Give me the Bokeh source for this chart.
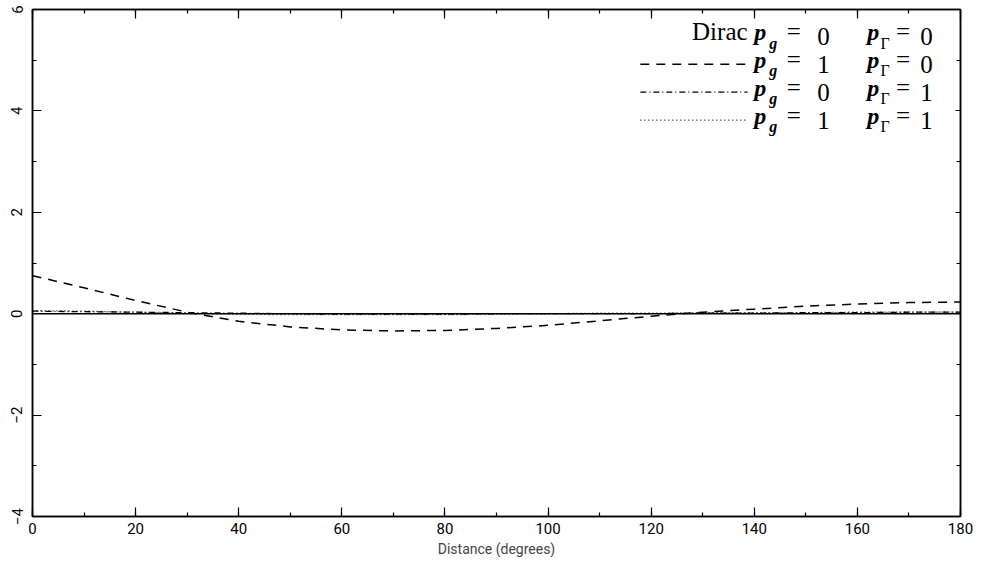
from bokeh.plotting import figure
from bokeh.models import (LinearAxis, SingleIntervalTicker, Range1d, Label,
                          CustomLabelingPolicy)
from bokeh.embed import file_html
from bokeh.resources import INLINE

# ---- data ----
distance = [0, 10, 20, 30, 40, 50, 60, 70, 80, 90, 100, 110, 120, 130, 140, 150, 160, 170, 180]
dirac_pg0_pr0 = [0.00, 0.00, 0.00, 0.00, 0.00, 0.00, 0.00, 0.00, 0.00, 0.00,
                 0.00, 0.00, 0.00, 0.00, 0.00, 0.00, 0.00, 0.00, 0.00]
pg1_pr0 = [0.75, 0.51, 0.26, 0.03, -0.15, -0.26, -0.32, -0.34, -0.33, -0.29,
           -0.23, -0.14, -0.05, 0.03, 0.09, 0.15, 0.19, 0.22, 0.23]
pg0_pr1 = [0.05, 0.04, 0.03, 0.02, 0.01, 0.00, -0.01, -0.01, -0.01, 0.00,
           0.00, 0.00, 0.00, 0.01, 0.01, 0.02, 0.02, 0.03, 0.03]
pg1_pr1 = [0.06, 0.05, 0.03, 0.01, -0.01, -0.02, -0.02, -0.02, -0.02, -0.01,
           0.00, 0.01, 0.01, 0.02, 0.02, 0.02, 0.03, 0.03, 0.03]

legend_pg = ["0", "1", "0", "1"]
legend_pr = ["0", "0", "1", "1"]
x_label = "Distance (degrees)"

# ---- figure ----
p = figure(width=981, height=577, x_range=Range1d(0, 180), y_range=Range1d(-4, 6),
           output_backend="svg", toolbar_location=None,
           min_border_left=32, min_border_right=21, min_border_top=9, min_border_bottom=61,
           x_axis_label=x_label)
p.xgrid.visible = False
p.ygrid.visible = False
p.outline_line_color = "black"
p.outline_line_width = 1.5
p.background_fill_color = "white"
p.border_fill_color = "white"

TICK_FONT = "Roboto"
no_labels = CustomLabelingPolicy(code="for (const i of indices) { indices.unset(i) } return indices")

def style_axis(ax, labels=True):
    ax.major_tick_in = 9
    ax.major_tick_out = 0
    ax.minor_tick_in = 4
    ax.minor_tick_out = 0
    ax.axis_line_color = "black"
    ax.axis_line_width = 1.5
    ax.major_tick_line_width = 1.2
    ax.minor_tick_line_width = 1.2
    ax.major_label_text_font = TICK_FONT
    ax.major_label_text_color = "black"
    ax.major_label_text_font_size = "15px"
    if not labels:
        ax.major_label_policy = no_labels
        ax.major_label_standoff = 0
        ax.major_label_text_font_size = "1px"

p.xaxis.ticker = SingleIntervalTicker(interval=20, num_minor_ticks=2)
p.yaxis.ticker = SingleIntervalTicker(interval=2, num_minor_ticks=2)
for ax in p.xaxis:
    style_axis(ax)
    ax.major_label_standoff = 6
    ax.axis_label_text_font = TICK_FONT
    ax.axis_label_text_font_style = "normal"
    ax.axis_label_text_font_size = "14px"
    ax.axis_label_standoff = 4
for ax in p.yaxis:
    style_axis(ax)
    ax.major_label_orientation = "vertical"
    ax.major_label_standoff = 10

top = LinearAxis(ticker=SingleIntervalTicker(interval=20, num_minor_ticks=2))
style_axis(top, labels=False)
p.add_layout(top, "above")
right = LinearAxis(ticker=SingleIntervalTicker(interval=2, num_minor_ticks=2))
style_axis(right, labels=False)
right.major_tick_in = 5
p.add_layout(right, "right")

# ---- curves ----
dashes = ["9 7", "6 3 1 3", "1 3"]
p.line(distance, dirac_pg0_pr0, line_color="black", line_width=1.6)
p.line(distance, pg1_pr0, line_color="black", line_width=1.5, line_dash=dashes[0])
p.line(distance, pg0_pr1, line_color="black", line_width=1.3, line_dash=dashes[1])
p.line(distance, pg1_pr1, line_color="black", line_width=1.3, line_dash=dashes[2])

# ---- legend (layout constants in data units) ----
SERIF = "Liberation Serif"
FS = "25px"
row_base = [5.29, 4.75, 4.19, 3.64]
row_mid = [5.45, 4.92, 4.37, 3.82]
sample_x0, sample_x1 = 117.9, 138.7

p.add_layout(Label(x=sample_x1, y=row_base[0], text="Dirac", text_align="right",
                   text_font=SERIF, text_font_size=FS, text_color="black"))
for k in range(3):
    ym = row_mid[k + 1]
    p.line([sample_x0, sample_x1], [ym, ym], line_color="black",
           line_width=1.3, line_dash=dashes[k])

for i in range(4):
    yb = row_base[i]
    p.add_layout(Label(x=140.0, y=yb, text="p", text_font=SERIF, text_font_style="bold italic",
                       text_font_size="24px", text_color="black"))
    p.add_layout(Label(x=142.9, y=yb - 0.12, text="g", text_font=SERIF, text_font_style="bold italic",
                       text_font_size="16px", text_color="black"))
    p.add_layout(Label(x=146.3, y=yb, text="=", text_font=SERIF,
                       text_font_size=FS, text_color="black"))
    p.add_layout(Label(x=152.2, y=yb, text=legend_pg[i], text_font=SERIF,
                       text_font_size=FS, text_color="black"))
    p.add_layout(Label(x=161.9, y=yb, text="p", text_font=SERIF, text_font_style="bold italic",
                       text_font_size="24px", text_color="black"))
    p.add_layout(Label(x=164.5, y=yb - 0.12, text="Γ", text_font=SERIF,
                       text_font_size="16px", text_color="black"))
    p.add_layout(Label(x=167.5, y=yb, text="=", text_font=SERIF,
                       text_font_size=FS, text_color="black"))
    p.add_layout(Label(x=172.2, y=yb, text=legend_pr[i], text_font=SERIF,
                       text_font_size=FS, text_color="black"))

open("out.html", "w").write(file_html(p, INLINE))
